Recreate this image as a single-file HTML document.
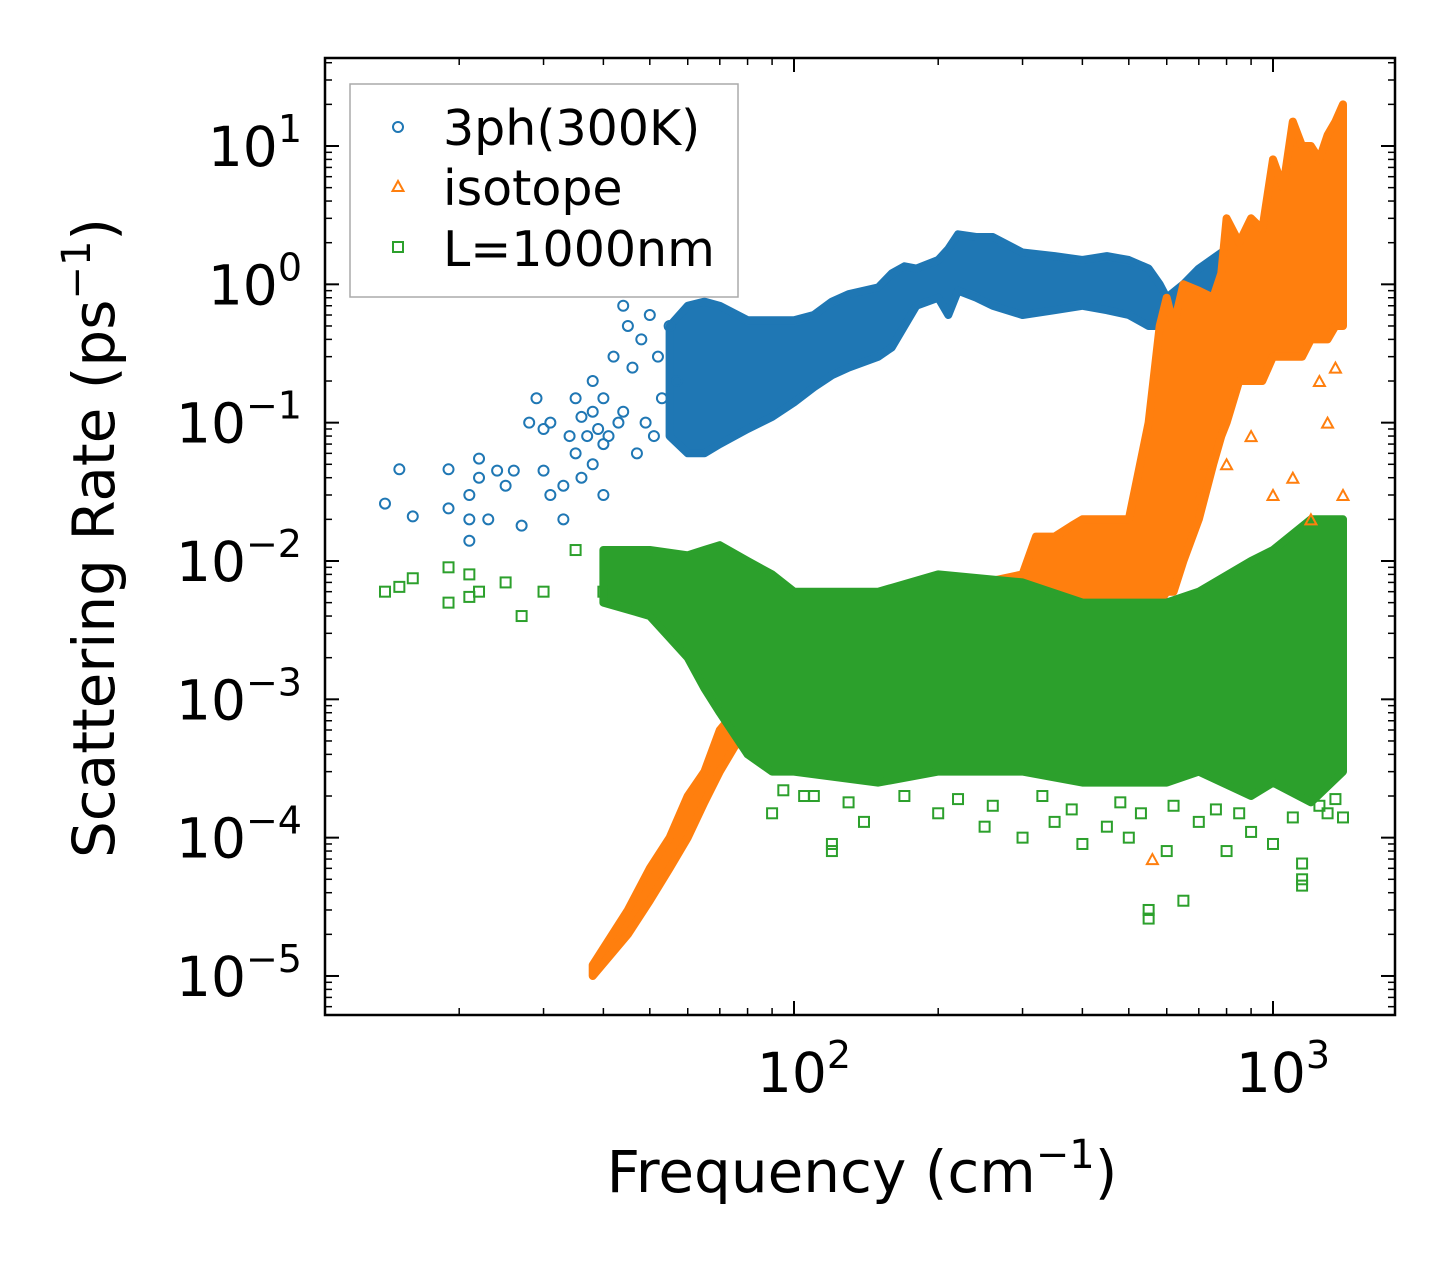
<!DOCTYPE html>
<html><head><meta charset="utf-8"><style>
html,body{margin:0;padding:0;background:#fff;}
svg{display:block;font-family:"DejaVu Sans","Liberation Sans",sans-serif;}
</style></head><body>
<svg id="chart" width="1455" height="1265" viewBox="0 0 1455 1265" xmlns="http://www.w3.org/2000/svg">
<g id="bands"></g>
<g id="points"></g>
<g id="axes"></g>
<text x="862" y="1192" font-size="58" text-anchor="middle">Frequency (cm<tspan dy="-24" font-size="40">−1</tspan><tspan dy="24">)</tspan></text>
<text transform="translate(114,538) rotate(-90)" font-size="58" text-anchor="middle">Scattering Rate (ps<tspan dy="-24" font-size="40">−1</tspan><tspan dy="24">)</tspan></text>
<g>
<rect x="350" y="84" width="388" height="213" fill="#fff" fill-opacity="0.8" stroke="#aaa" stroke-width="1.5"/>
<g><circle cx="398" cy="127" r="5" fill="none" stroke="#1f77b4" stroke-width="2"/><text x="443" y="145" font-size="49">3ph(300K)</text></g>
<g><polygon points="398,181 392.5,191 403.5,191" fill="none" stroke="#ff7f0e" stroke-width="2"/><text x="443" y="205" font-size="49">isotope</text></g>
<g><rect x="393" y="242" width="10" height="10" fill="none" stroke="#2ca02c" stroke-width="2"/><text x="443" y="266" font-size="49">L=1000nm</text></g>
</g>
</svg>
<script>
// ---- data ----
const blueBandFreq = [55,60,65,70,80,90,100,110,120,130,150,160,170,180,200,210,220,240,260,300,350,400,450,500,550,580,600,650,700,800,900,1000,1100,1200,1300,1400];
const blueBandHigh = [0.5,0.7,0.75,0.7,0.55,0.55,0.55,0.6,0.75,0.85,0.95,1.2,1.35,1.3,1.5,1.8,2.3,2.2,2.2,1.7,1.6,1.5,1.6,1.5,1.3,1.0,0.8,1.0,1.3,1.8,2.0,2.5,3.0,3.0,3.0,3.0];
const blueBandLow  = [0.08,0.06,0.06,0.07,0.09,0.11,0.14,0.18,0.22,0.25,0.3,0.35,0.5,0.7,0.8,0.6,0.9,0.8,0.7,0.6,0.65,0.7,0.65,0.6,0.5,0.5,0.5,0.6,0.7,0.8,0.9,1.0,1.2,1.5,1.8,2.0];
const orangeBandFreq = [38,45,50,55,60,65,70,75,80,90,100,120,150,200,250,300,320,350,380,400,450,500,550,580,600,620,650,700,750,780,800,850,900,950,1000,1050,1100,1150,1200,1250,1300,1350,1400];
const orangeBandHigh = [1.2e-5,3e-5,6e-5,1e-4,2e-4,3e-4,6e-4,8e-4,1e-3,1.5e-3,2e-3,3e-3,4e-3,6e-3,7e-3,8e-3,1.5e-2,1.5e-2,1.8e-2,2e-2,2e-2,2e-2,0.1,0.5,0.8,0.5,1,0.9,0.8,1.2,3,2,3,2.5,8,5,15,10,10,8,12,15,20];
const orangeBandLow  = [1e-5,2e-5,3.5e-5,6e-5,1e-4,1.8e-4,3e-4,4.5e-4,6e-4,8e-4,1e-3,1e-3,1e-3,1e-3,1e-3,1e-3,1e-3,1e-3,1e-3,1e-3,2e-3,3e-3,5e-3,5e-3,6e-3,6e-3,1e-2,2e-2,5e-2,8e-2,0.1,0.2,0.2,0.2,0.3,0.3,0.3,0.3,0.4,0.4,0.4,0.5,0.5];
const greenBandFreq = [40,50,60,65,70,80,90,100,150,200,300,400,600,700,900,1000,1200,1400];
const greenBandHigh = [0.012,0.012,0.011,0.012,0.013,0.01,0.008,0.006,0.006,0.008,0.007,0.005,0.005,0.006,0.01,0.012,0.02,0.02];
const greenBandLow  = [0.005,0.004,0.002,0.0012,0.0008,0.0004,0.0003,0.0003,0.00025,0.0003,0.0003,0.00025,0.00025,0.0003,0.0002,0.00025,0.00018,0.0003];
const bluePtsX = [14,15,16,19,19,21,21,21,22,22,23,24,25,26,27,28,29,30,30,31,33,33,35,35,36,37,38,38,40,40,42,43,45,46,48,50,52,55,40,31,44,47,53,57,34,39,41,44,49,51,36,38];
const bluePtsY = [0.026,0.046,0.021,0.046,0.024,0.03,0.02,0.014,0.055,0.04,0.02,0.045,0.035,0.045,0.018,0.1,0.15,0.09,0.045,0.1,0.02,0.035,0.15,0.06,0.04,0.08,0.2,0.12,0.15,0.07,0.3,0.1,0.5,0.25,0.4,0.6,0.3,0.5,0.03,0.03,0.7,0.06,0.15,0.2,0.08,0.09,0.08,0.12,0.1,0.08,0.11,0.05];
const orangePtsX = [560,1000,1100,1200,1400,1300,900,700,800,1250,1350];
const orangePtsY = [7e-5,0.03,0.04,0.02,0.03,0.1,0.08,0.03,0.05,0.2,0.25];
const greenPtsX = [14,15,16,19,19,21,21,22,25,27,30,35,40,120,120,110,200,300,400,500,550,550,600,650,800,1000,1150,1150,1150,140,250,350,450,700,900,1300,1400,90,75,95,105,130,170,220,260,330,380,480,530,620,760,850,1100,1250,1350];
const greenPtsY = [0.006,0.0065,0.0075,0.009,0.005,0.008,0.0055,0.006,0.007,0.004,0.006,0.012,0.006,9e-5,8e-5,2e-4,1.5e-4,1e-4,9e-5,1e-4,3e-5,2.6e-5,8e-5,3.5e-5,8e-5,9e-5,5e-5,4.5e-5,6.5e-5,1.3e-4,1.2e-4,1.3e-4,1.2e-4,1.3e-4,1.1e-4,1.5e-4,1.4e-4,1.5e-4,7e-4,2.2e-4,2e-4,1.8e-4,2e-4,1.9e-4,1.7e-4,2e-4,1.6e-4,1.8e-4,1.5e-4,1.7e-4,1.6e-4,1.5e-4,1.4e-4,1.7e-4,1.9e-4];
const xTickVals = [100,1000];
const yTickExps = [1,0,-1,-2,-3,-4,-5];

// ---- axes ----
const L=325,R=1395,T=58,B=1015;
const sx = v => 794 + (Math.log10(v)-2)*479;
const sy = v => 146 - (Math.log10(v)-1)*138.33;
const NS='http://www.w3.org/2000/svg';
function mk(tag, attrs, parent){const e=document.createElementNS(NS,tag);for(const k in attrs)e.setAttribute(k,attrs[k]);parent.appendChild(e);return e;}
const bands=document.getElementById('bands'), pts=document.getElementById('points'), axes=document.getElementById('axes');

function band(fx,hi,lo,color,name){
  let d='M'+fx.map((f,i)=>sx(f).toFixed(1)+','+sy(hi[i]).toFixed(1)).join(' L');
  for(let i=fx.length-1;i>=0;i--) d+=' L'+sx(fx[i]).toFixed(1)+','+sy(lo[i]).toFixed(1);
  d+='Z';
  const p=mk('path',{d:d,fill:color,stroke:color,'stroke-width':8,'stroke-linejoin':'round'},bands);
  
  
}
function marker(kind,x,y,color,name){
  const cx=sx(x),cy=sy(y);let e;
  if(kind==='c') e=mk('circle',{cx:cx,cy:cy,r:5,fill:'none',stroke:color,'stroke-width':2},pts);
  else if(kind==='t') e=mk('polygon',{points:`${cx},${cy-5} ${cx-5.5},${cy+5} ${cx+5.5},${cy+5}`,fill:'none',stroke:color,'stroke-width':2},pts);
  else e=mk('rect',{x:cx-5,y:cy-5,width:10,height:10,fill:'none',stroke:color,'stroke-width':2},pts);
  
  
}
band(blueBandFreq,blueBandHigh,blueBandLow,'#1f77b4','band-3ph');
bluePtsX.forEach((x,i)=>marker('c',x,bluePtsY[i],'#1f77b4','point-3ph'));
band(orangeBandFreq,orangeBandHigh,orangeBandLow,'#ff7f0e','band-isotope');
orangePtsX.forEach((x,i)=>marker('t',x,orangePtsY[i],'#ff7f0e','point-isotope'));
band(greenBandFreq,greenBandHigh,greenBandLow,'#2ca02c','band-boundary');
greenPtsX.forEach((x,i)=>marker('s',x,greenPtsY[i],'#2ca02c','point-boundary'));

// frame
const fr=mk('rect',{x:L,y:T,width:R-L,height:B-T,fill:'none',stroke:'#000','stroke-width':2.5},axes);


function tick(x1,y1,x2,y2,w){mk('line',{x1:x1,y1:y1,x2:x2,y2:y2,stroke:'#000','stroke-width':w},axes);}
for(let dec=10;dec<=1000;dec*=10){for(let m=1;m<10;m++){const v=dec*m;const x=sx(v);if(x<L||x>R)continue;const major=m===1;const len=major?14:7;tick(x,B,x,B-len,major?2:1.5);tick(x,T,x,T+len,major?2:1.5);}}
xTickVals.forEach(v=>{const t=mk('text',{x:sx(v)+10,y:1092,'font-size':55,'text-anchor':'middle'},axes);t.innerHTML='10<tspan dy="-24" font-size="38">'+Math.log10(v)+'</tspan>';

});
for(let e=-6;e<=1;e++){for(let m=1;m<10;m++){const v=m*Math.pow(10,e);const y=sy(v);if(y<T||y>B)continue;const major=m===1;const len=major?14:7;tick(L,y,L+len,y,major?2:1.5);tick(R,y,R-len,y,major?2:1.5);}}
yTickExps.forEach(e=>{const t=mk('text',{x:302,y:sy(Math.pow(10,e))+20,'font-size':55,'text-anchor':'end'},axes);t.innerHTML='10<tspan dy="-24" font-size="38">'+(e<0?'−'+(-e):e)+'</tspan>';

});
</script>
</body></html>
